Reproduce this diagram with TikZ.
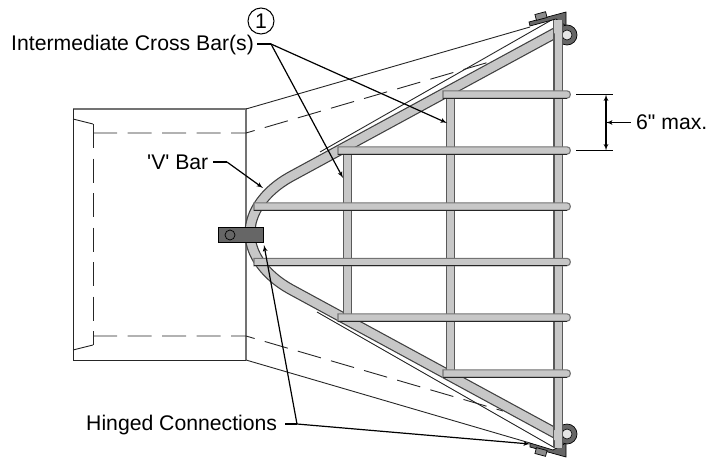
\documentclass[tikz,border=0pt]{standalone}
\usepackage{fontspec}
\newfontfamily\labelfont{Liberation Sans}
\usetikzlibrary{arrows}

\begin{document}
\begin{tikzpicture}[x=1pt,y=-1pt,>=latex']
	\tikzset{label/.style={inner sep=0pt,anchor=base west,font=\labelfont\fontsize{21.2}{23}\selectfont},
		thinline/.style={draw=black!85,line width=.9pt},
		grayline/.style={draw=black!55,line width=1.3pt},
		dashline/.style={thinline,dash pattern=on 24pt off 10.5pt},
		leader/.style={draw=black,line width=1.2pt},
		baroutline/.style={draw=black!65,line width=9.5pt},
		barfill/.style={draw=black!22,line width=7pt},
		vbaroutline/.style={draw=black!75,line width=11pt},
		vbarfill/.style={draw=black!22,line width=8.6pt},
		barshape/.style={draw=black!55,fill=black!22,line width=1.1pt},
		plate/.style={draw=black,fill=black!60,line width=.7pt},
	}
	\useasboundingbox (0,0) rectangle (711,458);
	%% frame
	\draw[grayline] (73,109) -- (246,109) -- (246,360);
	\draw[thinline] (73,109) -- (73,360) -- (246,360);
	\draw[thinline] (73,119) -- (93,124);
	\draw[thinline] (73,350) -- (93,345);
	\draw[dashline] (93,124) -- (93,345);
	\draw[dashline] (93,133) -- (246,133) -- (503,58);
	\draw[dashline] (93,336) -- (246,336) -- (503,411);
	\draw[thinline] (246,109) -- (530,27);
	\draw[thinline] (246,360) -- (530,443);
	\draw[thinline] (555,18) -- (320,152);
	\draw[thinline] (555,448) -- (317,312);
	%% hardware
	\draw[plate] (529,22) -- (566,12) -- (566,26) -- (556,19) -- (530,26) -- cycle;
	\draw[plate] (530,443) -- (553,450) -- (566,443) -- (566,457) -- (530,447) -- cycle;
	\node[plate,fill=black!45,rotate=15,minimum width=11pt,minimum height=6pt,inner sep=0pt] (topbolt) at (541,16) {};
	\node[plate,fill=black!45,rotate=-15,minimum width=11pt,minimum height=6pt,inner sep=0pt] (lowbolt) at (541,452) {};
	\foreach \yc in {35,434}{
		\draw[plate] (567,\yc) circle (10);
		\draw[draw=black,fill=black!10,line width=.6pt] (567,\yc) circle (5);
	}
	%% bars
	\def\vbar{(557,32) -- (290,177) .. controls (265,191) and (250,212) .. (250,233) .. controls (250,254) and (265,275) .. (290,289) -- (557,434)}
	\draw[vbaroutline] \vbar;
	\draw[vbarfill] \vbar;
	\foreach \xb/\ya/\yb in {347.5/151/317,450.5/95/374,558/20/448}{
		\draw[baroutline] (\xb,\ya) -- (\xb,\yb);
		\draw[barfill] (\xb,\ya) -- (\xb,\yb);
	}
	\fill[black!22] (554,20) -- (561.5,20) -- (561.5,38) -- (554,33) -- cycle;
	\fill[black!22] (554,430) -- (561.5,433) -- (561.5,442) -- (554,440) -- cycle;
	\foreach \yb/\xb in {94.5/443,150.5/338,206.5/254,262/254,317.5/338,373.5/443}{
		\draw[barshape] (\xb,\yb-3.7) -- (567,\yb-3.7) .. controls (571.5,\yb-3.7) and (571.5,\yb+3.7) .. (567,\yb+3.7) -- (\xb,\yb+3.7) -- cycle;
		\draw[thinline] (\xb,\yb+3.7) -- (567,\yb+3.7);
	}
	\node[plate,minimum width=45pt,minimum height=15pt,inner sep=0pt] (clevis) at (240.5,234.5) {};
	\node[plate,circle,minimum size=10pt,inner sep=0pt] (pin) at (230,235) {};
	%% labels
	\node[label] (crossbar) at (11,50) {Intermediate Cross Bar(s)};
	\node[label] (vbarlabel) at (147,169) {'V' Bar};
	\node[label] (hinged) at (86,430) {Hinged Connections};
	\node[label] (max) at (636,129) {6" max.};
	\node[label,draw=black,line width=1pt,circle,anchor=center,minimum size=26pt] (callout) at (261,21) {1};
	\coordinate (crossjoint) at (271,44);
	\coordinate (vjoint) at (227,162);
	\coordinate (hingedjoint) at (297,424);
	%% paths
	\draw[leader] (257,44) -- (crossjoint);
	\draw[leader,->] (crossjoint) -- (343,178);
	\draw[leader,->] (crossjoint) -- (447,123);
	\draw[leader] (213,162) -- (vjoint);
	\draw[leader,->] (vjoint) -- (263,188);
	\draw[leader] (285,424) -- (hingedjoint);
	\draw[leader,->] (hingedjoint) -- (264,245);
	\draw[leader,->] (hingedjoint) -- (530,444);
	%% dimension
	\draw[leader] (576,94.5) -- (613,94.5);
	\draw[leader] (576,150.5) -- (613,150.5);
	\draw[leader,<->] (606,94.5) -- (606,150.5);
	\draw[leader,->] (631,122.5) -- (606,122.5);
\end{tikzpicture}
\end{document}
